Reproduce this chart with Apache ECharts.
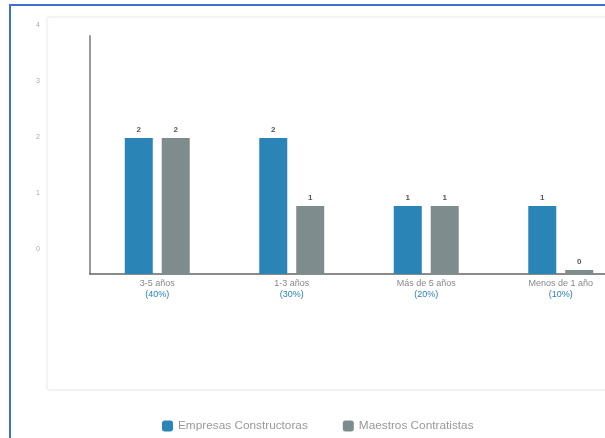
<!DOCTYPE html>
<html><head><meta charset="utf-8">
<script src="https://cdn.jsdelivr.net/npm/echarts@6/dist/echarts.min.js"></script>
<style>html,body{margin:0;padding:0;background:#fff;overflow:hidden}#c{width:640px;height:438px}</style>
</head><body><div id="c"></div>
<script>
const categories = ['3-5 años', '1-3 años', 'Más de 5 años', 'Menos de 1 año'];
const percents = ['(40%)', '(30%)', '(20%)', '(10%)'];
const empresas = [2, 2, 1, 1];
const maestros = [2, 1, 1, 0];
const sideTicks = [0, 1, 2, 3, 4];
const seriesNames = ['Empresas Constructoras', 'Maestros Contratistas'];

const chart = echarts.init(document.getElementById('c'));
const labelMap = {};
categories.forEach((c, i) => labelMap[c] = percents[i]);
chart.setOption({
  animation: false,
  graphic: [
    {type: 'rect', shape: {x: 10, y: 5, width: 660, height: 460}, style: {fill: 'none', stroke: '#3f6fcf', lineWidth: 2}, z: 0},
    {type: 'rect', shape: {x: 47, y: 17, width: 640, height: 373, r: 2}, style: {fill: '#fff', stroke: '#ececec', lineWidth: 1, shadowBlur: 3, shadowColor: 'rgba(0,0,0,0.05)'}, z: 0}
  ],
  legend: {
    left: 157, top: 415, itemWidth: 11, itemHeight: 11, itemGap: 35,
    icon: 'roundRect',
    textStyle: {fontSize: 11.8, color: '#999', fontFamily: 'Liberation Sans'},
    data: seriesNames
  },
  grid: [
    {left: 90, top: 36, width: 538, height: 238},
    {left: 44, top: 25, width: 1, height: 224}
  ],
  xAxis: [
    {type: 'category', gridIndex: 0, data: categories,
     axisLine: {lineStyle: {color: '#666', width: 1.5}}, axisTick: {show: false},
     axisLabel: {interval: 0, fontSize: 9, lineHeight: 11, margin: 4, fontFamily: 'Liberation Sans',
       formatter: v => '{a|' + v + '}\n{b|' + labelMap[v] + '}',
       rich: {a: {color: '#888', fontSize: 9, lineHeight: 11}, b: {color: '#2980b9', fontSize: 9, lineHeight: 11}}}},
    {type: 'category', gridIndex: 1, show: false, data: ['x']}
  ],
  yAxis: [
    {type: 'value', gridIndex: 0, min: 0, max: 3.5,
     axisLine: {show: true, lineStyle: {color: '#999', width: 2}}, axisTick: {show: false},
     axisLabel: {show: false}, splitLine: {show: false}},
    {type: 'value', gridIndex: 1, min: sideTicks[0], max: sideTicks[sideTicks.length - 1], interval: 1,
     axisLine: {show: false}, axisTick: {show: false}, splitLine: {show: false},
     axisLabel: {fontSize: 7, color: '#aaa', margin: 4, fontFamily: 'Liberation Sans'}}
  ],
  series: [
    {name: seriesNames[0], type: 'bar', data: empresas, barWidth: 28, barGap: '32%',
     itemStyle: {color: '#2a84b5'}, barMinHeight: 4,
     label: {show: true, position: 'top', distance: 4, fontSize: 8, fontWeight: 'bold', color: '#555'}},
    {name: seriesNames[1], type: 'bar', data: maestros, barWidth: 28, barGap: '32%',
     itemStyle: {color: '#7f8c8d'}, barMinHeight: 4,
     label: {show: true, position: 'top', distance: 4, fontSize: 8, fontWeight: 'bold', color: '#555'}}
  ]
});
</script></body></html>
